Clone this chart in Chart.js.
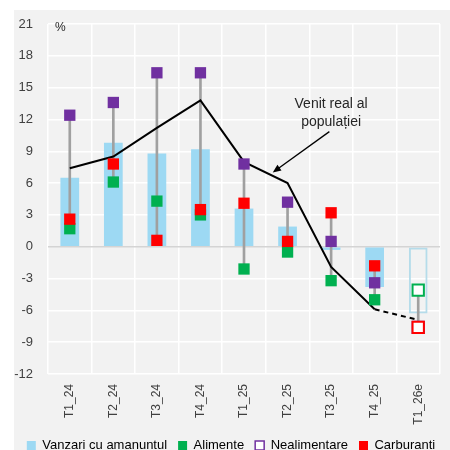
<!DOCTYPE html>
<html>
<head>
<meta charset="utf-8">
<script src="https://cdn.jsdelivr.net/npm/chart.js@4/dist/chart.umd.min.js"></script>
<style>
  html, body { margin: 0; padding: 0; background: #fff; }
  #wrap { width: 450px; height: 450px; position: relative; }
</style>
</head>
<body>
<div id="wrap"><canvas id="chart"></canvas></div>
<script>
// categories and series
const labels = ['T1_24', 'T2_24', 'T3_24', 'T4_24', 'T1_25', 'T2_25', 'T3_25', 'T4_25', 'T1_26e'];
const vanzari = [6.5, 9.8, 8.8, 9.2, 3.6, 1.9, -0.3, -3.8, -6.3];
const alimente = [1.7, 6.1, 4.3, 3.0, -2.1, -0.5, -3.2, -5.0, -4.1];
const nealimentare = [12.4, 13.6, 16.4, 16.4, 7.8, 4.2, 0.5, -3.4, -7.6];
const carburanti = [2.6, 7.8, 0.6, 3.5, 4.1, 0.5, 3.2, -1.8, -7.6];
const venit = [7.4, 8.5, 11.2, 13.8, 8.0, 6.0, -1.9, -5.9, -6.9];
const yTicks = { min: -12, max: 21, step: 3 };

// annotation placed in data units (category index, value)
const noteText = ['Venit real al', 'populației'];
const notePos = { x: 6.0, y1: 13.4, y2: 11.7 };
const arrowFrom = { x: 5.96, y: 10.85 };
const arrowTo = { x: 4.66, y: 7.0 };

const BLUE = '#9dd9f3';
const GREEN = '#00b050';
const PURPLE = '#7030a0';
const RED = '#ff0000';
const last = labels.length - 1;

// whiskers from min to max of the three component series
const whiskers = labels.map((_, i) => {
    const v = [alimente[i], nealimentare[i], carburanti[i]];
    return [Math.min(...v), Math.max(...v)];
});

const background = {
    id: 'background',
    beforeDraw(chart) {
        const ctx = chart.ctx;
        ctx.save();
        ctx.fillStyle = '#f2f2f2';
        ctx.fillRect(14, 10, chart.width - 14, chart.height - 10);
        ctx.restore();
    }
};

const notes = {
    id: 'notes',
    afterDraw(chart) {
        const ctx = chart.ctx;
        const x = chart.scales.x, y = chart.scales.y;
        const area = chart.chartArea;
        ctx.save();
        ctx.fillStyle = '#262626';
        ctx.font = '12px "Liberation Sans", Arial, sans-serif';
        ctx.textAlign = 'left';
        ctx.textBaseline = 'middle';
        ctx.fillText('%', area.left + 7, area.top + 4);

        ctx.font = '14px "Liberation Sans", Arial, sans-serif';
        ctx.textAlign = 'center';
        ctx.fillText(noteText[0], x.getPixelForValue(notePos.x), y.getPixelForValue(notePos.y1));
        ctx.fillText(noteText[1], x.getPixelForValue(notePos.x), y.getPixelForValue(notePos.y2));

        const x1 = x.getPixelForValue(arrowFrom.x), y1 = y.getPixelForValue(arrowFrom.y);
        const x2 = x.getPixelForValue(arrowTo.x), y2 = y.getPixelForValue(arrowTo.y);
        const ang = Math.atan2(y2 - y1, x2 - x1);
        const head = 9;
        ctx.strokeStyle = '#000';
        ctx.lineWidth = 1.3;
        ctx.beginPath();
        ctx.moveTo(x1, y1);
        ctx.lineTo(x2 - Math.cos(ang) * head * 0.8, y2 - Math.sin(ang) * head * 0.8);
        ctx.stroke();
        ctx.fillStyle = '#000';
        ctx.beginPath();
        ctx.moveTo(x2, y2);
        ctx.lineTo(x2 - head * Math.cos(ang - 0.4), y2 - head * Math.sin(ang - 0.4));
        ctx.lineTo(x2 - head * Math.cos(ang + 0.4), y2 - head * Math.sin(ang + 0.4));
        ctx.closePath();
        ctx.fill();
        ctx.restore();
    }
};

function markerSet(label, data, color, order) {
    return {
        type: 'line',
        label: label,
        data: data,
        showLine: false,
        pointStyle: 'rect',
        pointRadius: 8,
        pointBackgroundColor: data.map((_, i) => i === last ? '#ffffff' : color),
        pointBorderColor: color,
        pointBorderWidth: data.map((_, i) => i === last ? 2 : 0),
        order: order
    };
}

new Chart(document.getElementById('chart'), {
    type: 'bar',
    data: {
        labels: labels,
        datasets: [
            {
                label: 'Vanzari cu amanuntul',
                data: vanzari,
                backgroundColor: vanzari.map((_, i) => i === last ? 'rgba(0,0,0,0)' : BLUE),
                borderColor: vanzari.map((_, i) => i === last ? '#b5dcea' : BLUE),
                borderWidth: vanzari.map((_, i) => i === last ? 2 : 0),
                borderSkipped: false,
                categoryPercentage: 1,
                barPercentage: 0.43,
                grouped: false,
                order: 6
            },
            {
                label: 'whisker',
                data: whiskers,
                backgroundColor: '#a0a0a0',
                barThickness: 2,
                grouped: false,
                order: 5
            },
            {
                type: 'line',
                label: 'Venit real al populației',
                data: venit,
                borderColor: '#000000',
                borderWidth: 2,
                pointRadius: 0,
                tension: 0,
                segment: {
                    borderDash: ctx => ctx.p1DataIndex === last ? [5, 4] : undefined
                },
                order: 4
            },
            markerSet('Alimente', alimente, GREEN, 3),
            markerSet('Nealimentare', nealimentare, PURPLE, 2),
            markerSet('Carburanti', carburanti, RED, 1)
        ]
    },
    options: {
        responsive: true,
        maintainAspectRatio: false,
        animation: false,
        events: [],
        layout: { padding: { left: 14, right: 2, top: 24, bottom: -12 } },
        plugins: {
            tooltip: { enabled: false },
            legend: {
                position: 'bottom',
                labels: {
                    boxWidth: 9,
                    boxHeight: 9,
                    padding: 11,
                    color: '#262626',
                    font: { family: '"Liberation Sans", Arial, sans-serif', size: 13 },
                    generateLabels: () => [
                        { text: 'Vanzari cu amanuntul', fillStyle: BLUE, strokeStyle: BLUE, lineWidth: 0, datasetIndex: 0 },
                        { text: 'Alimente', fillStyle: GREEN, strokeStyle: GREEN, lineWidth: 0, datasetIndex: 3 },
                        { text: 'Nealimentare', fillStyle: '#ffffff', strokeStyle: PURPLE, lineWidth: 1.5, datasetIndex: 4 },
                        { text: 'Carburanti', fillStyle: RED, strokeStyle: RED, lineWidth: 0, datasetIndex: 5 }
                    ]
                }
            }
        },
        scales: {
            x: {
                offset: true,
                grid: { color: '#ffffff', lineWidth: 1.5, offset: true, drawTicks: false },
                border: { display: false },
                ticks: {
                    minRotation: 90,
                    maxRotation: 90,
                    padding: 10,
                    color: '#404040',
                    font: { family: '"Liberation Sans", Arial, sans-serif', size: 12 }
                },
                afterFit: scale => { scale.height = 54; }
            },
            y: {
                min: yTicks.min,
                max: yTicks.max,
                grid: {
                    color: ctx => ctx.tick.value === 0 ? '#d4d4d4' : '#ffffff',
                    lineWidth: 1.5,
                    drawTicks: false
                },
                border: { display: false },
                ticks: {
                    stepSize: yTicks.step,
                    padding: 15,
                    color: '#404040',
                    font: { family: '"Liberation Sans", Arial, sans-serif', size: 13 }
                },
                afterFit: scale => { scale.width = 34; }
            }
        }
    },
    plugins: [background, notes]
});
</script>
</body>
</html>
